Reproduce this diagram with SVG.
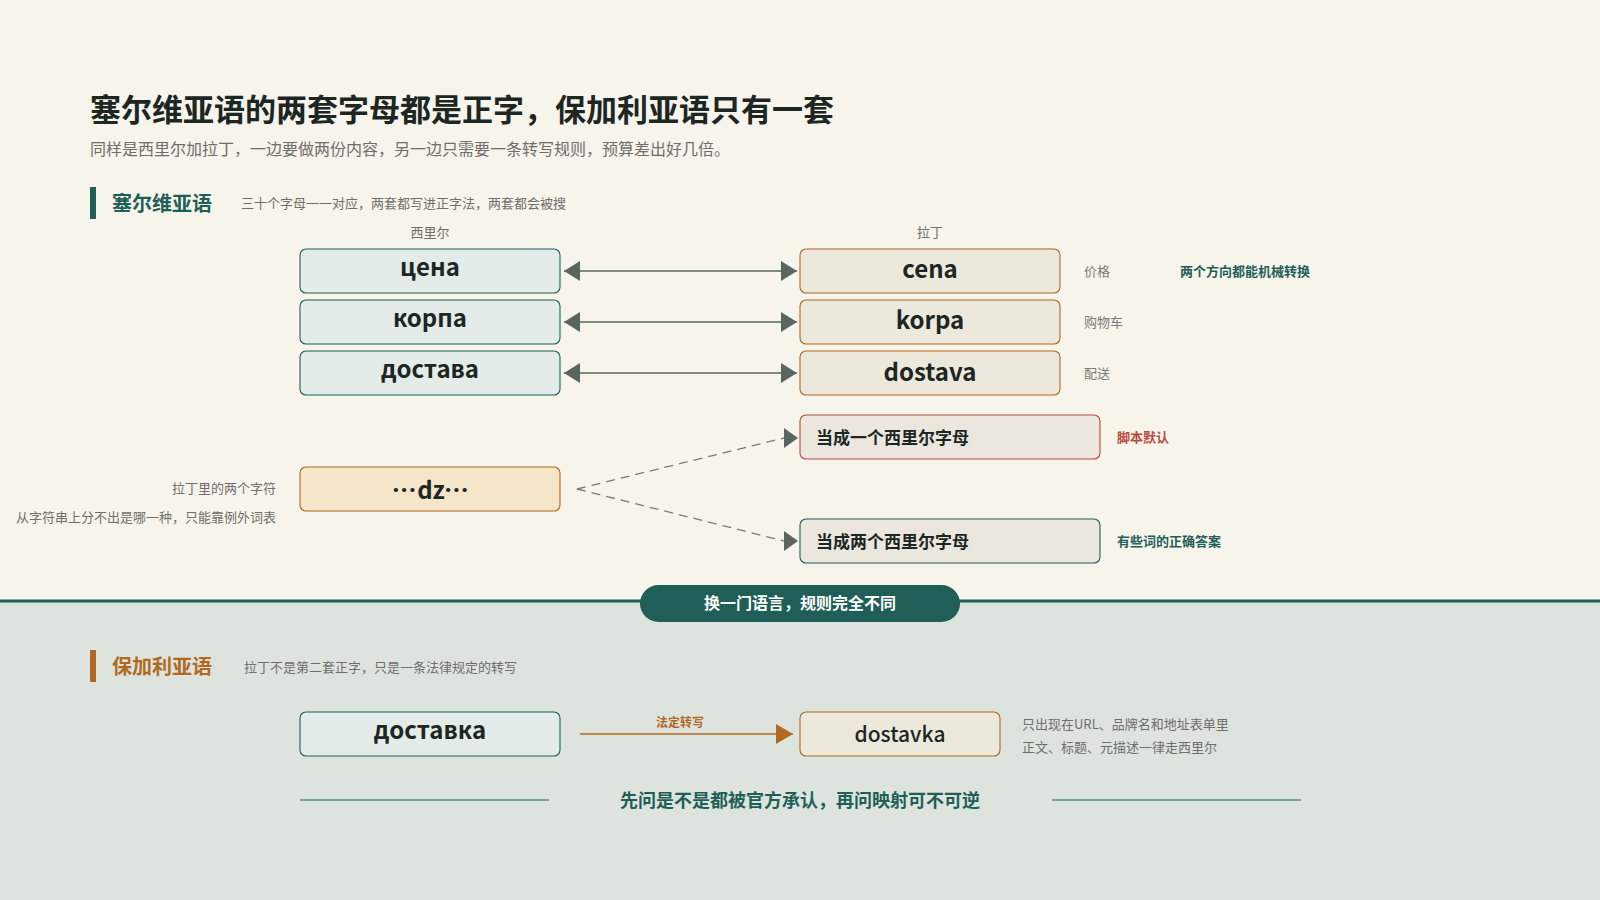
<svg xmlns="http://www.w3.org/2000/svg" width="1600" height="900" viewBox="0 0 1600 900">
<defs>
<style>
text{font-family:"Noto Sans CJK SC","Noto Sans",sans-serif;}
.title{font-size:31px;font-weight:700;fill:#1c2623;}
.sub{font-size:16px;fill:#6e6e6a;}
.sec1{font-size:20px;font-weight:700;fill:#1f5f57;}
.sec2{font-size:20px;font-weight:700;fill:#b0691f;}
.desc{font-size:13px;fill:#6e6e6a;}
.col{font-size:13px;fill:#6e6e6a;}
.gloss{font-size:13px;fill:#7a7a76;}
.word{font-size:24px;font-weight:700;fill:#1c2623;}
.opt{font-size:17px;font-weight:700;fill:#1c2623;}
.boxc{fill:#e3ece8;stroke:#1f5f57;stroke-width:1.1;}
.boxl{fill:#ede8dc;stroke:#b0691f;stroke-width:1.1;}
.tag{font-size:13px;font-weight:700;}
.dots{font-family:"Noto Sans","Liberation Sans",sans-serif;letter-spacing:1.5px;}
</style>
<marker id="ag" markerUnits="userSpaceOnUse" markerWidth="16" markerHeight="20" refX="16" refY="10" orient="auto-start-reverse"><path d="M0,0 L16,10 L0,20 Z" fill="#58665f"/></marker>
<marker id="ad" markerUnits="userSpaceOnUse" markerWidth="14" markerHeight="20" refX="0" refY="10" orient="0"><path d="M0,0 L14,10 L0,20 Z" fill="#58665f"/></marker>
<marker id="ao" markerUnits="userSpaceOnUse" markerWidth="17" markerHeight="20" refX="17" refY="10" orient="auto"><path d="M0,0 L17,10 L0,20 Z" fill="#b0691f"/></marker>
</defs>
<rect x="0" y="0" width="1600" height="601" fill="#f7f4ec"/>
<rect x="0" y="601" width="1600" height="299" fill="#dde4de"/>
<line x1="0" y1="601" x2="1600" y2="601" stroke="#1f5f57" stroke-width="3"/>

<g id="header">
<text class="title" x="90" y="107" dominant-baseline="central">塞尔维亚语的两套字母都是正字，保加利亚语只有一套</text>
<text class="sub" x="90" y="148" dominant-baseline="central">同样是西里尔加拉丁，一边要做两份内容，另一边只需要一条转写规则，预算差出好几倍。</text>
</g>

<g id="section-serbian">
<rect x="90" y="187" width="6" height="32" fill="#1f5f57"/>
<text class="sec1" x="112" y="202" dominant-baseline="central">塞尔维亚语</text>
<text class="desc" x="241" y="202" dominant-baseline="central">三十个字母一一对应，两套都写进正字法，两套都会被搜</text>
<text class="col" x="430" y="231" text-anchor="middle" dominant-baseline="central">西里尔</text>
<text class="col" x="930" y="231" text-anchor="middle" dominant-baseline="central">拉丁</text>
</g>

<g id="connectors">
<line x1="564" y1="271" x2="797" y2="271" stroke="#58665f" stroke-width="1.5" marker-start="url(#ag)" marker-end="url(#ag)"/>
<line x1="564" y1="322" x2="797" y2="322" stroke="#58665f" stroke-width="1.5" marker-start="url(#ag)" marker-end="url(#ag)"/>
<line x1="564" y1="373" x2="797" y2="373" stroke="#58665f" stroke-width="1.5" marker-start="url(#ag)" marker-end="url(#ag)"/>
<line x1="577" y1="489" x2="784" y2="438" stroke="#7a7a76" stroke-width="1.3" stroke-dasharray="9 6" marker-end="url(#ad)"/>
<line x1="577" y1="489" x2="784" y2="541" stroke="#7a7a76" stroke-width="1.3" stroke-dasharray="9 6" marker-end="url(#ad)"/>
<line x1="580" y1="734" x2="793" y2="734" stroke="#b0691f" stroke-width="1.5" marker-end="url(#ao)"/>
<text class="tag" x="680" y="721" text-anchor="middle" dominant-baseline="central" style="font-size:12px;fill:#b0691f">法定转写</text>
</g>

<g id="cyr-cena"><rect class="boxc" x="300" y="249" width="260" height="44" rx="6"/><text class="word" x="430" y="265" text-anchor="middle" dominant-baseline="central">цена</text></g>
<g id="cyr-korpa"><rect class="boxc" x="300" y="300" width="260" height="44" rx="6"/><text class="word" x="430" y="316" text-anchor="middle" dominant-baseline="central">корпа</text></g>
<g id="cyr-dostava"><rect class="boxc" x="300" y="351" width="260" height="44" rx="6"/><text class="word" x="430" y="367" text-anchor="middle" dominant-baseline="central">достава</text></g>

<g id="lat-cena"><rect class="boxl" x="800" y="249" width="260" height="44" rx="6"/><text class="word" x="930" y="267" text-anchor="middle" dominant-baseline="central">cena</text></g>
<g id="lat-korpa"><rect class="boxl" x="800" y="300" width="260" height="44" rx="6"/><text class="word" x="930" y="318" text-anchor="middle" dominant-baseline="central">korpa</text></g>
<g id="lat-dostava"><rect class="boxl" x="800" y="351" width="260" height="44" rx="6"/><text class="word" x="930" y="370" text-anchor="middle" dominant-baseline="central">dostava</text></g>

<g id="glosses">
<text class="gloss" x="1084" y="270" dominant-baseline="central">价格</text>
<text class="gloss" x="1084" y="321" dominant-baseline="central">购物车</text>
<text class="gloss" x="1084" y="372" dominant-baseline="central">配送</text>
<text class="tag" x="1180" y="270" dominant-baseline="central" fill="#1f5f57">两个方向都能机械转换</text>
</g>

<g id="dz">
<rect x="300" y="467" width="260" height="44" rx="6" fill="#f5e5c9" stroke="#b0691f" stroke-width="1.1"/>
<text class="word" x="431" y="488" text-anchor="middle" dominant-baseline="central"><tspan class="dots">···</tspan>dz<tspan class="dots">···</tspan></text>
<text class="desc" x="276" y="487" text-anchor="end" dominant-baseline="central">拉丁里的两个字符</text>
<text class="desc" x="276" y="516" text-anchor="end" dominant-baseline="central">从字符串上分不出是哪一种，只能靠例外词表</text>
</g>

<g id="opt-one">
<rect x="800" y="415" width="300" height="44" rx="6" fill="#ebe7df" stroke="#b84a3e" stroke-width="1.1"/>
<text class="opt" x="816" y="436" dominant-baseline="central">当成一个西里尔字母</text>
<text class="tag" x="1117" y="436" dominant-baseline="central" fill="#b84a3e">脚本默认</text>
</g>
<g id="opt-two">
<rect x="800" y="519" width="300" height="44" rx="6" fill="#ebe7df" stroke="#1f5f57" stroke-width="1.1"/>
<text class="opt" x="816" y="540" dominant-baseline="central">当成两个西里尔字母</text>
<text class="tag" x="1117" y="540" dominant-baseline="central" fill="#1f5f57">有些词的正确答案</text>
</g>

<g id="divider-pill">
<rect x="640" y="585" width="320" height="37" rx="18.5" fill="#1f5f57"/>
<text x="800" y="602" text-anchor="middle" dominant-baseline="central" style="font-size:16px;font-weight:700;fill:#ffffff">换一门语言，规则完全不同</text>
</g>

<g id="section-bulgarian">
<rect x="90" y="650" width="6" height="32" fill="#b0691f"/>
<text class="sec2" x="112" y="665" dominant-baseline="central">保加利亚语</text>
<text class="desc" x="244" y="666" dominant-baseline="central">拉丁不是第二套正字，只是一条法律规定的转写</text>
</g>

<g id="bg-dostavka"><rect class="boxc" x="300" y="712" width="260" height="44" rx="6"/><text class="word" x="430" y="728" text-anchor="middle" dominant-baseline="central">доставка</text></g>
<g id="bg-latin"><rect class="boxl" x="800" y="712" width="200" height="44" rx="6"/><text x="900" y="733" text-anchor="middle" dominant-baseline="central" style="font-size:21px;font-weight:500;fill:#1c2623">dostavka</text></g>

<g id="bg-notes">
<text class="desc" x="1022" y="723" dominant-baseline="central">只出现在URL、品牌名和地址表单里</text>
<text class="desc" x="1022" y="746" dominant-baseline="central">正文、标题、元描述一律走西里尔</text>
</g>

<g id="footer">
<line x1="300" y1="800" x2="549" y2="800" stroke="#1f5f57" stroke-width="1"/>
<line x1="1052" y1="800" x2="1301" y2="800" stroke="#1f5f57" stroke-width="1"/>
<text x="800" y="799" text-anchor="middle" dominant-baseline="central" style="font-size:18px;font-weight:700;fill:#1f5f57">先问是不是都被官方承认，再问映射可不可逆</text>
</g>
</svg>
